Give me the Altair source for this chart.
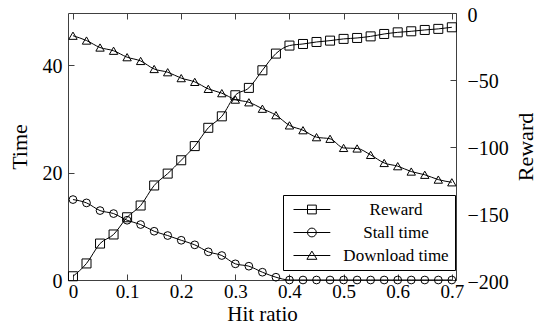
import altair as alt
import pandas as pd

# ---- data ----
hit_ratio = [0.0, 0.025, 0.05, 0.075, 0.1, 0.125, 0.15, 0.175, 0.2, 0.225,
             0.25, 0.275, 0.3, 0.325, 0.35, 0.375, 0.4, 0.425, 0.45, 0.475,
             0.5, 0.525, 0.55, 0.575, 0.6, 0.625, 0.65, 0.675, 0.7]
reward = [-197.2, -187.6, -172.7, -165.9, -153.0, -144.2, -129.2, -120.3, -110.3, -99.7,
          -86.0, -77.4, -61.6, -56.1, -42.9, -30.4, -24.4, -23.2, -21.7, -20.7,
          -19.4, -18.7, -17.5, -15.7, -14.5, -13.7, -12.7, -11.9, -10.7]
stall_time = [14.98, 14.36, 12.93, 12.37, 11.13, 10.33, 9.08, 8.28, 7.40, 6.55,
              5.25, 4.56, 3.01, 2.57, 1.45, 0.52, 0.0, 0.0, 0.0, 0.0,
              0.0, 0.0, 0.0, 0.0, 0.0, 0.0, 0.0, 0.0, 0.0]
download_time = [45.5, 44.6, 43.3, 42.7, 41.5, 40.8, 39.3, 38.7, 37.6, 36.9,
                 35.6, 34.8, 33.6, 33.1, 31.9, 30.7, 28.8, 27.9, 26.6, 26.3,
                 24.6, 24.5, 23.3, 21.8, 21.2, 20.2, 19.6, 18.7, 18.2]
series_names = ["Reward", "Stall time", "Download time"]
x_ticks = [0, 0.1, 0.2, 0.3, 0.4, 0.5, 0.6, 0.7]
time_ticks = [0, 20, 40]
reward_ticks = [0, -50, -100, -150, -200]

df = pd.DataFrame({"x": hit_ratio, "reward": reward,
                   "stall": stall_time, "download": download_time})
leg_df = pd.DataFrame({"series": series_names, "x": [0.0] * 3, "v": [0.0] * 3})

FONT = "Liberation Serif"
FRAME = "#404040"
xs = alt.Scale(domain=[-0.0092, 0.7077], nice=False, zero=False)
ts = alt.Scale(domain=[0, 49.73], nice=False, zero=False)
rs = alt.Scale(domain=[-200, 0], nice=False, zero=False)

common_lab = dict(grid=False, domain=False, ticks=False, labelFont=FONT,
                  labelFontSize=20, labelColor="black", titleFont=FONT,
                  titleFontSize=22, titleFontWeight="normal", titleColor="black",
                  labelFlush=False, labelOverlap=False)
common_tick = dict(grid=False, domain=False, ticks=True, labels=False, tickSize=6,
                   tickColor=FRAME, tickWidth=1, offset=-6, title=None)

ghost = alt.Chart(df).mark_point(opacity=0)

# labelled bottom x axis + labelled left Time axis
x_lab = dict(common_lab, labelFontSize=19, titleFontSize=21)
A1 = ghost.encode(
    x=alt.X("x:Q", scale=xs, axis=alt.Axis(
        orient="bottom", values=x_ticks, title="Hit ratio",
        labelExpr="datum.value == 0 ? '0' : format(datum.value, '.1f')",
        labelPadding=2, titlePadding=2, **x_lab)),
    y=alt.Y("download:Q", scale=ts, axis=alt.Axis(
        orient="left", values=time_ticks, title="Time", labelOffset=1,
        labelPadding=6, titlePadding=11, **common_lab)),
)
# inward ticks bottom + left
A2 = ghost.encode(
    x=alt.X("x:Q", scale=xs, axis=alt.Axis(orient="bottom", values=x_ticks, **common_tick)),
    y=alt.Y("download:Q", scale=ts, axis=alt.Axis(orient="left", values=time_ticks, **common_tick)),
)
# inward ticks top + labelled right Reward axis
A3 = ghost.encode(
    x=alt.X("x:Q", scale=xs, axis=alt.Axis(orient="top", values=x_ticks, **common_tick)),
    y=alt.Y("reward:Q", scale=rs, axis=alt.Axis(
        orient="right", values=reward_ticks, title="Reward", titleAngle=270,
        titleBaseline="top", labelPadding=11, titlePadding=7, labelOffset=2,
        **common_lab)),
)
# inward ticks right
A4 = ghost.encode(
    x=alt.X("x:Q", scale=xs, axis=None),
    y=alt.Y("reward:Q", scale=rs, axis=alt.Axis(orient="right", values=reward_ticks, **common_tick)),
)


def series_layers(field, scale, shape, size):
    base = alt.Chart(df).encode(
        x=alt.X("x:Q", scale=xs, axis=None),
        y=alt.Y(f"{field}:Q", scale=scale, axis=None),
    )
    line = base.mark_line(color="black", strokeWidth=1, interpolate="monotone")
    pts = base.mark_point(shape=shape, size=size, filled=False, color="black",
                          strokeWidth=1, opacity=1)
    return [line, pts]


L_reward = series_layers("reward", rs, "square", 81)
L_stall = series_layers("stall", ts, "circle", 60)
L_down = series_layers("download", ts, "triangle-up", 70)

paths = [
    "M-1,0H8.2M2.5,-1.1H4.7V1.1H2.5Z",
    "M-1,0H8.2M4.7,0A1.1,1.1,0,1,1,2.5,0A1.1,1.1,0,1,1,4.7,0Z",
    "M-1,0H8.2M3.6,-1.1L4.85,0.95L2.35,0.95Z",
]

legend_layer = alt.Chart(leg_df).transform_filter("false").mark_point(
    filled=False, color="black", strokeWidth=1, opacity=1
).encode(
    x=alt.X("x:Q", scale=xs, axis=None),
    y=alt.Y("v:Q", scale=ts, axis=None),
    shape=alt.Shape("series:N", scale=alt.Scale(domain=series_names, range=paths),
                    legend=alt.Legend(
                        title=None, orient="none", legendX=215, legendY=182,
                        strokeColor="black", fillColor="white", padding=6,
                        cornerRadius=0, symbolSize=64, symbolStrokeColor="black",
                        symbolFillColor="transparent", symbolStrokeWidth=1,
                        symbolOpacity=1, labelFont=FONT, labelFontSize=17,
                        labelColor="black", labelAlign="center", labelOffset=90,
                        rowPadding=5)),
)

chart = alt.layer(
    A1, A2, A3, A4, *L_down, *L_stall, *L_reward, legend_layer
).resolve_scale(
    y="independent", shape="independent"
).resolve_axis(
    x="independent", y="independent"
).properties(
    width=388, height=267,
    autosize=alt.AutoSizeParams(type="none"),
    padding={"left": 60, "top": 5, "right": 79, "bottom": 45},
    background="white",
).configure_view(stroke=FRAME, strokeWidth=1)

chart.save("out.html", embed_options={"renderer": "svg", "actions": False})
